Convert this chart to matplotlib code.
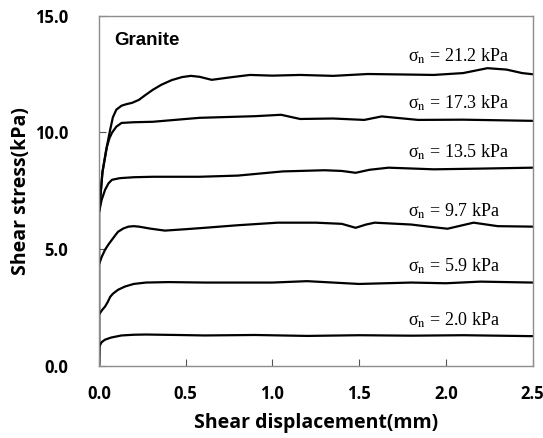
import matplotlib
matplotlib.use('Agg')
import matplotlib.pyplot as plt

# shear displacement (mm) / shear stress (kPa)
x_20 = [0, 0.003, 0.015, 0.035, 0.07, 0.13, 0.2, 0.27, 0.45, 0.61, 0.9, 1.2, 1.5, 1.8, 2.1, 2.5]
y_20 = [0, 0.83, 1.0, 1.11, 1.2, 1.29, 1.32, 1.33, 1.31, 1.29, 1.31, 1.27, 1.30, 1.28, 1.30, 1.26]

x_59 = [0, 0, 0.02, 0.035, 0.05, 0.065, 0.08, 0.11, 0.15, 0.2, 0.27, 0.4, 0.61, 1.0, 1.2, 1.5, 1.8, 2.0, 2.2, 2.5]
y_59 = [0, 2.19, 2.4, 2.53, 2.72, 2.95, 3.08, 3.25, 3.39, 3.5, 3.56, 3.58, 3.56, 3.56, 3.62, 3.50, 3.56, 3.53, 3.60, 3.56]

x_97 = [0, 0, 0.015, 0.035, 0.055, 0.075, 0.095, 0.11, 0.14, 0.17, 0.2, 0.23, 0.3, 0.38, 0.5, 0.61, 0.8, 1.03, 1.25, 1.4, 1.48, 1.54, 1.59, 1.8, 1.9, 2.01, 2.16, 2.3, 2.5]
y_97 = [0, 4.33, 4.65, 4.97, 5.2, 5.40, 5.6, 5.74, 5.88, 5.96, 5.98, 5.96, 5.87, 5.79, 5.85, 5.91, 6.02, 6.13, 6.13, 6.08, 5.91, 6.05, 6.13, 6.05, 5.96, 5.87, 6.13, 5.98, 5.96]

x_135 = [0, 0, 0.015, 0.035, 0.055, 0.075, 0.12, 0.2, 0.31, 0.58, 0.8, 1.06, 1.3, 1.4, 1.48, 1.56, 1.67, 1.93, 2.2, 2.5]
y_135 = [0, 6.56, 7.1, 7.54, 7.82, 7.97, 8.04, 8.08, 8.10, 8.10, 8.15, 8.33, 8.38, 8.35, 8.27, 8.4, 8.49, 8.42, 8.45, 8.49]

x_173 = [0, 0, 0.02, 0.046, 0.06, 0.075, 0.1, 0.13, 0.2, 0.31, 0.58, 0.9, 1.05, 1.16, 1.35, 1.53, 1.63, 1.84, 2.1, 2.5]
y_173 = [0, 6.56, 8.3, 9.39, 9.75, 9.99, 10.25, 10.41, 10.44, 10.46, 10.63, 10.70, 10.76, 10.58, 10.60, 10.54, 10.69, 10.54, 10.55, 10.50]

x_212 = [0, 0, 0.02, 0.04, 0.064, 0.08, 0.1, 0.13, 0.16, 0.19, 0.23, 0.27, 0.31, 0.36, 0.42, 0.48, 0.53, 0.58, 0.65, 0.75, 0.87, 1.0, 1.16, 1.35, 1.55, 1.75, 1.93, 2.1, 2.24, 2.35, 2.44, 2.5]
y_212 = [0, 6.56, 8.3, 9.2, 10.1, 10.65, 10.98, 11.15, 11.22, 11.27, 11.4, 11.62, 11.83, 12.05, 12.25, 12.38, 12.43, 12.39, 12.26, 12.36, 12.47, 12.44, 12.47, 12.43, 12.51, 12.49, 12.47, 12.55, 12.76, 12.7, 12.55, 12.50]

series_x = [x_20, x_59, x_97, x_135, x_173, x_212]
series_y = [y_20, y_59, y_97, y_135, y_173, y_212]
normal_stress = ['2.0', '5.9', '9.7', '13.5', '17.3', '21.2']
label_y = [1.95, 4.27, 6.60, 9.17, 11.25, 13.25]

x_ticks = [0.0, 0.5, 1.0, 1.5, 2.0, 2.5]
y_ticks = [0.0, 5.0, 10.0, 15.0]

plt.rcParams['mathtext.fontset'] = 'stix'

fig = plt.figure(figsize=(5.43, 4.38), dpi=100)
ax = fig.add_axes([0.1823, 0.1655, 0.7984, 0.798])

for xs, ys in zip(series_x, series_y):
    ax.plot(xs, ys, color='black', lw=1.6, solid_joinstyle='round', solid_capstyle='round')

for s, ly in zip(normal_stress, label_y):
    ax.text(1.78, ly, 'σ$_\\mathrm{n}$ = ' + s + ' kPa', fontsize=13,
            family='Liberation Serif', va='center', ha='left')

ax.text(0.087, 13.95, 'Granite', fontsize=13.5, fontweight='bold',
        family='Liberation Sans', va='center', ha='left')

ax.set_xlim(0, 2.5)
ax.set_ylim(0, 15)
ax.set_xticks(x_ticks)
ax.set_yticks(y_ticks)
ax.set_xticklabels([f'{v:.1f}' for v in x_ticks])
ax.set_yticklabels([f'{v:.1f}' for v in y_ticks])
ax.tick_params(direction='in', length=5, width=0.8, color='#555555')
ax.tick_params(axis='y', pad=22)
ax.tick_params(axis='x', pad=14)
for lab in ax.get_xticklabels() + ax.get_yticklabels():
    lab.set_fontweight('bold')
    lab.set_fontsize(12)
    lab.set_family('Open Sans')
for sp in ax.spines.values():
    sp.set_color('#8c8c8c')
    sp.set_linewidth(1.0)

ax.set_xlabel('Shear displacement(mm)', fontsize=14, fontweight='bold',
              family='Open Sans', labelpad=7)
ax.set_ylabel('Shear stress(kPa)', fontsize=14, fontweight='bold',
              family='Open Sans', labelpad=3)

fig.savefig('out.png', dpi=100)
